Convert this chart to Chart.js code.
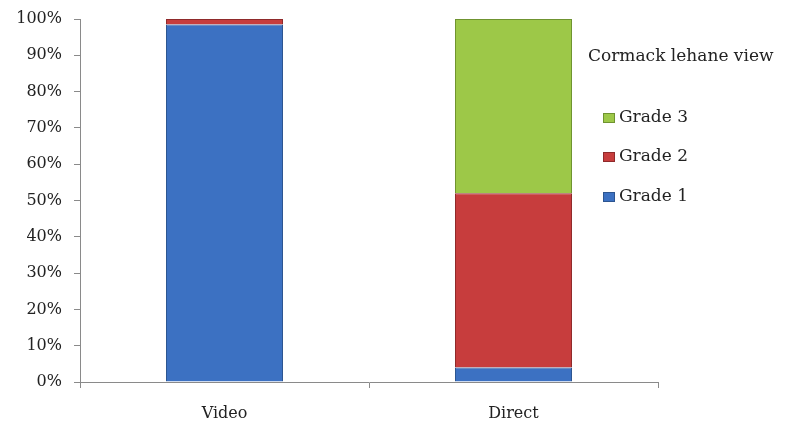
<!DOCTYPE html>
<html><head><meta charset="utf-8">
<script src="https://cdn.jsdelivr.net/npm/chart.js@4.4.1/dist/chart.umd.min.js"></script>
<style>html,body{margin:0;padding:0;background:#fff}#wrap{width:790px;height:430px}</style>
</head><body><div id="wrap"><canvas id="c" width="790" height="430"></canvas></div>
<script>
const categories = ["Video", "Direct"];
const grade1 = [98.5, 4];
const grade2 = [1.5, 48];
const grade3 = [0, 48];
const seriesLabels = ["Grade 1", "Grade 2", "Grade 3"];
const legendTitle = "Cormack lehane view";
const yTicks = [0,10,20,30,40,50,60,70,80,90,100];

const FONT = "'DejaVu Serif', 'Liberation Serif', serif";
const colors = ["#3c71c2", "#c73d3d", "#9dc848"];
const borders = ["#2d5590", "#8f2a2b", "#6f9330"];

const legendPlugin = {
  id: 'customLegend',
  afterDraw(chart) {
    const ctx = chart.ctx;
    ctx.save();
    ctx.fillStyle = '#222';
    ctx.font = "17px " + FONT;
    ctx.textBaseline = 'middle';
    ctx.textAlign = 'left';
    ctx.fillText(legendTitle, 588, 57);
    const ds = chart.data.datasets;
    const ys = [197, 157, 118];
    ds.forEach((d, i) => {
      const y = ys[i];
      ctx.fillStyle = d.backgroundColor;
      ctx.fillRect(603, y - 5, 12, 10);
      ctx.strokeStyle = d.borderColor;
      ctx.lineWidth = 1;
      ctx.strokeRect(603.5, y - 4.5, 11, 9);
      ctx.fillStyle = '#222';
      ctx.fillText(d.label, 619, y);
    });
    ctx.restore();
  }
};

new Chart(document.getElementById('c'), {
  type: 'bar',
  data: {
    labels: categories,
    datasets: [
      {label: seriesLabels[0], data: grade1, backgroundColor: colors[0], borderColor: borders[0], borderWidth: 1},
      {label: seriesLabels[1], data: grade2, backgroundColor: colors[1], borderColor: borders[1], borderWidth: 1},
      {label: seriesLabels[2], data: grade3, backgroundColor: colors[2], borderColor: borders[2], borderWidth: 1}
    ]
  },
  options: {
    responsive: false,
    animation: false,
    layout: {padding: {left: 0, right: 132, top: 19, bottom: 0}},
    plugins: {legend: {display: false}, tooltip: {enabled: false}},
    datasets: {bar: {categoryPercentage: 0.405, barPercentage: 1}},
    scales: {
      x: {
        stacked: true,
        grid: {display: true, drawOnChartArea: false, offset: true, color: '#8a8a8a', tickLength: 6},
        border: {display: true, color: '#8a8a8a'},
        ticks: {color: '#222', font: {family: FONT, size: 16}, padding: 16},
        afterFit(s) { s.height = 48; s.paddingLeft = 0; s.paddingRight = 0; }
      },
      y: {
        stacked: true,
        min: 0, max: 100,
        afterBuildTicks(s) { s.ticks = yTicks.map(v => ({value: v})); },
        grid: {display: true, drawOnChartArea: false, color: '#8a8a8a', tickLength: 6},
        border: {display: true, color: '#8a8a8a'},
        ticks: {color: '#222', font: {family: FONT, size: 16}, padding: 12, callback: v => v + '%'},
        afterFit(s) { s.width = 80; s.paddingTop = 0; s.paddingBottom = 0; }
      }
    }
  },
  plugins: [legendPlugin]
});
</script></body></html>
